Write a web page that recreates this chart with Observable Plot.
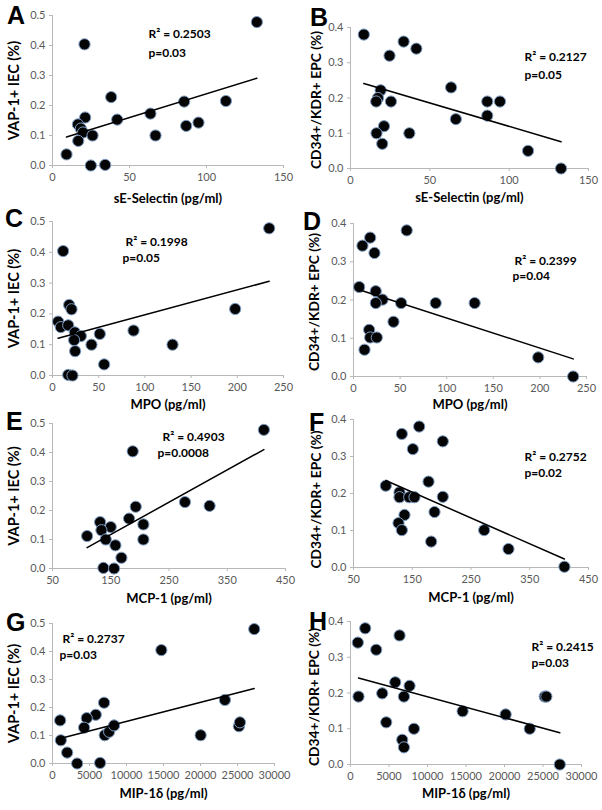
<!DOCTYPE html>
<html><head><meta charset="utf-8">
<script src="https://cdn.jsdelivr.net/npm/d3@7"></script>
<script src="https://cdn.jsdelivr.net/npm/@observablehq/plot@0.6"></script>
<style>
body{margin:0;background:#fff}
#wrap{position:relative;width:602px;height:810px;overflow:hidden;background:#fff}
.panel{position:absolute}
.panel svg{overflow:visible;background:transparent}
.letter{position:absolute;font-family:Arial,"Liberation Sans",sans-serif;font-weight:bold;font-size:25px;line-height:25px;color:#000}
</style>
</head><body><div id="wrap"></div>
<script>
// ---- Panel A: sE-Selectin vs VAP-1+ IEC
const aX = [132.7,20.8,38.1,85.5,112.6,21.2,42.0,63.6,16.5,18.4,19.8,26.0,16.7,66.9,86.8,94.8,9.1,24.9,34.2];
const aY = [0.478,0.404,0.228,0.213,0.215,0.160,0.153,0.173,0.137,0.123,0.110,0.100,0.082,0.100,0.132,0.143,0.037,0.000,0.002];
const aTrendX = [9.1,132.7], aTrendY = [0.095,0.291];
// ---- Panel B: sE-Selectin vs CD34+/KDR+ EPC
const bX = [8.4,33.5,41.5,24.6,63.4,19.0,17.3,16.2,25.5,86.2,94.2,86.2,66.4,21.1,16.4,37.1,20.0,111.9,132.7];
const bY = [0.380,0.360,0.340,0.320,0.230,0.222,0.200,0.190,0.190,0.190,0.190,0.150,0.140,0.120,0.100,0.100,0.070,0.050,0.000];
const bTrendX = [8.4,132.7], bTrendY = [0.241,0.076];
// ---- Panel C: MPO vs VAP-1+ IEC
const cX = [234.5,11.5,18.0,20.6,6.1,9.0,17.0,24.2,30.7,23.4,51.2,87.7,42.2,129.9,24.5,55.9,17.0,21.6,197.7];
const cY = [0.478,0.404,0.229,0.215,0.175,0.157,0.163,0.140,0.128,0.115,0.135,0.146,0.100,0.100,0.079,0.036,0.002,0.000,0.216];
const cTrendX = [6.1,234.5], cTrendY = [0.121,0.306];
// ---- Panel D: MPO vs CD34+/KDR+ EPC
const dX = [57.1,17.9,9.6,22.5,6.1,23.9,31.1,23.9,51.1,88.2,130.0,42.9,16.8,17.9,25.0,11.8,198.2,235.7];
const dY = [0.382,0.363,0.342,0.323,0.234,0.223,0.201,0.192,0.192,0.192,0.192,0.143,0.122,0.102,0.102,0.070,0.050,0.000];
const dTrendX = [6.1,235.7], dTrendY = [0.227,0.046];
// ---- Panel E: MCP-1 vs VAP-1+ IEC
const eX = [412.9,187.7,192.9,181.4,277.4,319.7,131.7,150.0,134.0,206.0,109.4,141.4,206.0,158.0,168.3,137.4,155.7];
const eY = [0.478,0.404,0.213,0.172,0.229,0.216,0.160,0.143,0.132,0.152,0.112,0.100,0.100,0.080,0.037,0.002,0.000];
const eTrendX = [109.4,412.9], eTrendY = [0.072,0.410];
// ---- Panel F: MCP-1 vs CD34+/KDR+ EPC
const fX = [161.8,132.3,202.0,151.0,177.7,105.0,128.3,128.3,144.8,153.8,202.0,187.9,136.8,126.6,132.3,272.4,182.2,313.8,409.0];
const fY = [0.381,0.361,0.341,0.320,0.232,0.221,0.203,0.190,0.190,0.190,0.191,0.150,0.142,0.120,0.101,0.101,0.070,0.050,0.002];
const fTrendX = [105.0,409.0], fTrendY = [0.235,0.023];
// ---- Panel G: MIP-1δ vs VAP-1+ IEC
const gX = [27260,14710,6970,5850,4630,4270,1035,1125,1980,3330,6430,7060,7650,8320,20020,23300,25190,25330];
const gY = [0.480,0.405,0.217,0.174,0.162,0.128,0.154,0.083,0.039,0.000,0.002,0.101,0.113,0.136,0.101,0.227,0.133,0.147];
const gTrendX = [1035,27260], gTrendY = [0.089,0.268];
// ---- Panel H: MIP-1δ vs CD34+/KDR+ EPC
const hX = [1910,6370,950,3340,5810,7670,4120,1040,6940,14560,20150,4640,8240,23280,6720,6940,25230,25440,27180];
const hY = [0.381,0.361,0.341,0.321,0.230,0.220,0.199,0.190,0.190,0.149,0.140,0.118,0.100,0.100,0.069,0.048,0.190,0.190,0.000];
const hTrendX = [1040,27180], hTrendY = [0.242,0.089];

// ---- Tick values and labels
const ticksSel = [0,50,100,150];
const ticksMPO = [0,50,100,150,200,250];
const ticksMCP = [50,150,250,350,450];
const ticksMIP = [0,5000,10000,15000,20000,25000,30000];
const ticksVAP = [0,0.1,0.2,0.3,0.4,0.5];
const ticksEPC = [0,0.1,0.2,0.3,0.4];
const labelVAP = "VAP-1+ IEC (%)";
const labelEPC = "CD34+/KDR+ EPC (%)";
const labelSel = "sE-Selectin (pg/ml)";
const labelMPO = "MPO (pg/ml)";
const labelMCP = "MCP-1 (pg/ml)";
const labelMIP = "MIP-1δ (pg/ml)";
const panelLetters = ["A","B","C","D","E","F","G","H"];
const r2Text = ["R² = 0.2503","R² = 0.2127","R² = 0.1998","R² = 0.2399","R² = 0.4903","R² = 0.2752","R² = 0.2737","R² = 0.2415"];
const pText = ["p=0.03","p=0.05","p=0.05","p=0.04","p=0.0008","p=0.02","p=0.03","p=0.03"];

const AXIS = "#b8b8b8", TICKTXT = "#595959";
const FONT = "Lato, 'Open Sans', 'DejaVu Sans', sans-serif";

const panels = [
  {xs:aX, ys:aY, tx:aTrendX, ty:aTrendY, xt:ticksSel, yt:ticksVAP, xl:labelSel, yl:labelVAP, yfs:14.5,
   left:0, top:0, m:[15,18,45,52], xlDy:33, ylDx:-38, ylDy:0, r2:[96,19], p:[96,38], letter:[7,3]},
  {xs:bX, ys:bY, tx:bTrendX, ty:bTrendY, xt:ticksSel, yt:ticksEPC, xl:labelSel, yl:labelEPC, yfs:13.8,
   left:301, top:0, m:[27,14,42,49], xlDy:29, ylDx:-34, ylDy:2, r2:[174,30], p:[174,48], letter:[310,5]},
  {xs:cX, ys:cY, tx:cTrendX, ty:cTrendY, xt:ticksMPO, yt:ticksVAP, xl:labelMPO, yl:labelVAP, yfs:14.5,
   left:0, top:200, m:[21,18,35,52], xlDy:29, ylDx:-38, ylDy:0, r2:[73,21], p:[70,37], letter:[5,206]},
  {xs:dX, ys:dY, tx:dTrendX, ty:dTrendY, xt:ticksMPO, yt:ticksEPC, xl:labelMPO, yl:labelEPC, yfs:13.8,
   left:301, top:200, m:[23,16,34,52], xlDy:28, ylDx:-39, ylDy:2, r2:[161,38], p:[159,53], letter:[303,209]},
  {xs:eX, ys:eY, tx:eTrendX, ty:eTrendY, xt:ticksMCP, yt:ticksVAP, xl:labelMCP, yl:labelVAP, yfs:14.5,
   left:0, top:400, m:[23,16,42,52], xlDy:30, ylDx:-38, ylDy:0, r2:[110,14], p:[105,30], letter:[6,409]},
  {xs:fX, ys:fY, tx:fTrendX, ty:fTrendY, xt:ticksMCP, yt:ticksEPC, xl:labelMCP, yl:labelEPC, yfs:13.8,
   left:301, top:400, m:[19,14,43,52], xlDy:30, ylDx:-37, ylDy:6, r2:[171,38], p:[171,54], letter:[309,410]},
  {xs:gX, ys:gY, tx:gTrendX, ty:gTrendY, xt:ticksMIP, yt:ticksVAP, xl:labelMIP, yl:labelVAP, yfs:14.5,
   left:0, top:600, m:[23,27,47,52], xlDy:30, ylDx:-38, ylDy:0, r2:[10,16], p:[7,32], letter:[6,610]},
  {xs:hX, ys:hY, tx:hTrendX, ty:hTrendY, xt:ticksMIP, yt:ticksEPC, xl:labelMIP, yl:labelEPC, yfs:13.8,
   left:301, top:600, m:[21,21,46,49], xlDy:29, ylDx:-36, ylDy:4, r2:[181,26], p:[181,42], letter:[309,609]}
];

const wrap = document.getElementById("wrap");
panels.forEach((c, i) => {
  const pts = c.xs.map((x, k) => ({x, y: c.ys[k]}));
  const trend = c.tx.map((x, k) => ({x, y: c.ty[k]}));
  const xd = [c.xt[0], c.xt[c.xt.length-1]];
  const yd = [c.yt[0], c.yt[c.yt.length-1]];
  const ann = {fontWeight: "bold", fontSize: 12, fill: "#000", fontFamily: FONT};
  const lab = {fontWeight: "bold", fontSize: 13, fill: "#000", fontFamily: FONT};
  const svg = Plot.plot({
    width: 301, height: 210,
    marginTop: c.m[0], marginRight: c.m[1], marginBottom: c.m[2], marginLeft: c.m[3],
    style: {background: "transparent", fontFamily: FONT, overflow: "visible"},
    x: {domain: xd},
    y: {domain: yd},
    marks: [
      Plot.axisX({ticks: c.xt, tickSize: 3, tickPadding: 5, fontSize: 11, stroke: AXIS, fill: TICKTXT, tickFormat: d => String(d), label: null}),
      Plot.axisY({ticks: c.yt, tickSize: 3, tickPadding: 4, fontSize: 11, stroke: AXIS, fill: TICKTXT, tickFormat: d3.format(".1f"), label: null}),
      Plot.ruleY([yd[0]], {stroke: AXIS, strokeWidth: 1}),
      Plot.ruleX([xd[0]], {stroke: AXIS, strokeWidth: 1}),
      Plot.dot(pts, {x: "x", y: "y", r: 5.6, fill: "#050505", stroke: "#7d9cc4", strokeWidth: 1}),
      Plot.line(trend, {x: "x", y: "y", stroke: "#000", strokeWidth: 1.5}),
      Plot.text([r2Text[i]], {text: d => d, frameAnchor: "top-left", dx: c.r2[0], dy: c.r2[1], textAnchor: "start", lineAnchor: "middle", ...ann}),
      Plot.text([pText[i]], {text: d => d, frameAnchor: "top-left", dx: c.p[0], dy: c.p[1], textAnchor: "start", lineAnchor: "middle", ...ann}),
      Plot.text([c.xl], {text: d => d, frameAnchor: "bottom", dy: c.xlDy, textAnchor: "middle", lineAnchor: "middle", ...lab}),
      Plot.text([c.yl], {text: d => d, frameAnchor: "left", dx: c.ylDx, dy: c.ylDy, rotate: -90, textAnchor: "middle", lineAnchor: "middle", ...lab, fontSize: c.yfs})
    ]
  });
  const div = document.createElement("div");
  div.className = "panel";
  div.style.left = c.left + "px";
  div.style.top = c.top + "px";
  div.appendChild(svg);
  wrap.appendChild(div);
  const L = document.createElement("div");
  L.className = "letter";
  L.style.left = c.letter[0] + "px";
  L.style.top = c.letter[1] + "px";
  L.textContent = panelLetters[i];
  wrap.appendChild(L);
});
</script>
</body></html>
